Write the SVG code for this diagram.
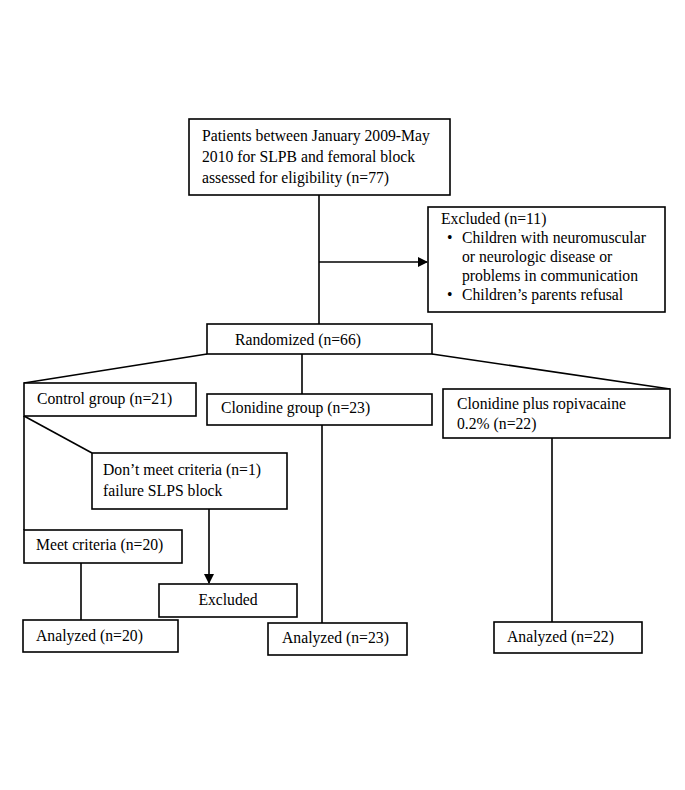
<svg xmlns="http://www.w3.org/2000/svg" width="685" height="790" viewBox="0 0 685 790">
<style>
.box{fill:#fff;stroke:#000;stroke-width:1.6}
.ln{fill:none;stroke:#000;stroke-width:1.6}
text{font-family:"Liberation Serif","Times New Roman",serif;font-size:15.7px;fill:#000}
</style>
<defs>
<marker id="ah" markerWidth="10" markerHeight="10" refX="9" refY="5" orient="auto" markerUnits="userSpaceOnUse">
<path d="M0,0 L10,5 L0,10 Z" fill="#000"/>
</marker>
</defs>
<rect width="685" height="790" fill="#fff"/>
<g id="connectors">
<line class="ln" x1="319" y1="195" x2="319" y2="324"/>
<line class="ln" x1="319" y1="262" x2="427" y2="262" marker-end="url(#ah)"/>
<line class="ln" x1="207" y1="354" x2="24" y2="383"/>
<line class="ln" x1="302" y1="354" x2="302" y2="394"/>
<line class="ln" x1="432" y1="354" x2="670" y2="389"/>
<line class="ln" x1="24" y1="416" x2="92" y2="453"/>
<line class="ln" x1="24" y1="416" x2="24" y2="530"/>
<line class="ln" x1="209" y1="509" x2="209" y2="583" marker-end="url(#ah)"/>
<line class="ln" x1="81" y1="563" x2="81" y2="620"/>
<line class="ln" x1="322" y1="425" x2="322" y2="623"/>
<line class="ln" x1="552" y1="438" x2="552" y2="622"/>
</g>
<g id="n_patients">
<rect class="box" x="189" y="119" width="261" height="76"/>
<text x="202" y="141">Patients between January 2009-May</text>
<text x="202" y="162">2010 for SLPB and femoral block</text>
<text x="202" y="183">assessed for eligibility (n=77)</text>
</g>
<g id="n_excluded1">
<rect class="box" x="428" y="207" width="237" height="105"/>
<text x="441" y="224">Excluded (n=11)</text>
<text x="447" y="243">•</text>
<text x="462" y="243">Children with neuromuscular</text>
<text x="462" y="262">or neurologic disease or</text>
<text x="462" y="281">problems in communication</text>
<text x="447" y="300">•</text>
<text x="462" y="300">Children’s parents refusal</text>
</g>
<g id="n_randomized">
<rect class="box" x="207" y="324" width="225" height="30"/>
<text x="235" y="345">Randomized (n=66)</text>
</g>
<g id="n_control">
<rect class="box" x="24" y="383" width="172" height="33"/>
<text x="37" y="404">Control group (n=21)</text>
</g>
<g id="n_clonidine">
<rect class="box" x="207" y="394" width="225" height="31"/>
<text x="221" y="413">Clonidine group (n=23)</text>
</g>
<g id="n_clonropi">
<rect class="box" x="443" y="389" width="227" height="49"/>
<text x="457" y="409">Clonidine plus ropivacaine</text>
<text x="457" y="429">0.2% (n=22)</text>
</g>
<g id="n_dontmeet">
<rect class="box" x="92" y="453" width="195" height="56"/>
<text x="103" y="475">Don’t meet criteria (n=1)</text>
<text x="103" y="496">failure SLPS block</text>
</g>
<g id="n_meet">
<rect class="box" x="24" y="530" width="158" height="33"/>
<text x="36" y="550">Meet criteria (n=20)</text>
</g>
<g id="n_excluded2">
<rect class="box" x="159" y="584" width="138" height="33"/>
<text x="228" y="605" text-anchor="middle">Excluded</text>
</g>
<g id="n_analyzed20">
<rect class="box" x="23" y="620" width="155" height="32"/>
<text x="36" y="641">Analyzed (n=20)</text>
</g>
<g id="n_analyzed23">
<rect class="box" x="268" y="623" width="139" height="32"/>
<text x="282" y="643">Analyzed (n=23)</text>
</g>
<g id="n_analyzed22">
<rect class="box" x="494" y="622" width="148" height="31"/>
<text x="507" y="642">Analyzed (n=22)</text>
</g>
</svg>
